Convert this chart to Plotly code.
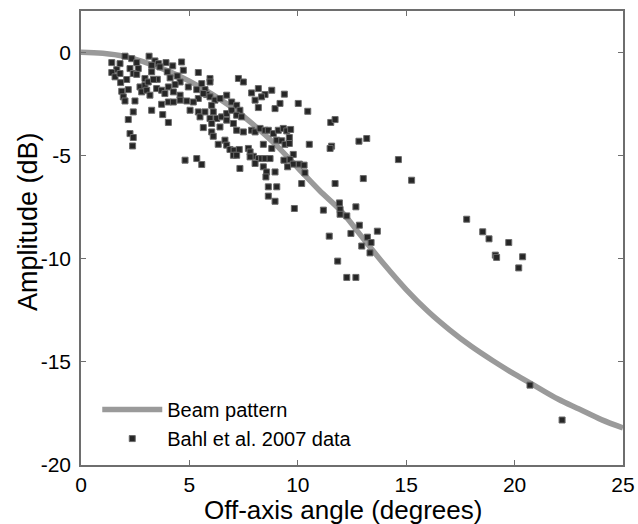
import plotly.graph_objects as go

# Beam pattern curve
beam_angle = [0, 1, 2, 3, 4, 5, 6, 7, 8, 9, 10, 11, 12, 13, 14, 15, 16, 17, 18, 19, 20, 21, 22, 23, 24, 25]
beam_db = [0, -0.05, -0.2, -0.5, -0.9, -1.4, -2.0, -2.7, -3.55, -4.5, -5.6, -6.7, -7.7, -9.0, -10.3,
           -11.5, -12.55, -13.45, -14.25, -14.95, -15.6, -16.2, -16.8, -17.3, -17.8, -18.2]

# Bahl et al. 2007 data
bahl_angle = [
    2.03, 2.34, 3.14, 2.57, 3.41, 3.57, 3.92, 4.64, 4.23, 3.26, 3.64, 3.98, 4.72, 5.41, 1.42, 1.80,
    1.65, 1.42, 1.57, 1.80, 2.26, 2.64, 2.41, 2.11, 2.57, 2.95, 3.26, 3.52, 4.11, 4.44, 4.57, 4.34,
    5.95, 5.95, 7.26, 7.49, 1.83, 2.18, 2.72, 2.95, 3.10, 3.34, 2.80, 3.03, 3.18, 3.49, 3.72, 3.87,
    4.03, 4.26, 4.57, 4.95, 5.34, 5.57, 5.72, 5.80, 5.41, 5.64, 5.95, 6.18, 6.41, 6.72, 6.95, 7.18,
    7.33, 7.87, 8.18, 8.49, 8.80, 8.03, 8.33, 8.18, 8.95, 9.18, 1.88, 1.95, 2.03, 2.49, 2.41, 2.18,
    3.26, 3.72, 4.03, 4.26, 4.57, 4.88, 5.03, 5.18, 5.41, 5.49, 5.72, 6.03, 6.10, 6.26, 6.49, 6.72,
    6.95, 7.18, 7.41, 5.95, 6.03, 6.41, 6.72, 7.03, 7.18, 7.49, 7.87, 8.03, 8.26, 8.49, 8.64, 8.87,
    9.03, 9.10, 2.26, 2.41, 2.38, 5.64, 6.03, 6.10, 6.64, 6.72, 6.87, 7.06, 7.30, 7.72, 7.80, 7.95,
    8.18, 8.33, 8.49, 8.72, 8.41, 8.80, 6.33, 7.03, 7.18, 7.80, 8.03, 8.41, 8.56, 8.53, 8.95, 4.80,
    5.34, 5.57, 7.33, 4.03, 3.77,
    9.38, 10.02, 10.46, 11.52, 11.72, 9.33, 9.49, 9.67, 9.26, 9.61, 9.41, 9.61, 10.53, 11.56, 11.49,
    12.82, 13.18, 9.79, 9.64, 9.36, 9.79, 10.07, 10.29, 9.53, 10.33, 10.18, 11.72, 13.02, 14.64,
    11.92, 12.68, 9.84, 11.18, 8.64, 9.03, 8.64, 8.95,
    11.95, 11.95, 12.26, 12.84, 13.67, 12.45, 11.45, 13.21, 13.38, 12.95, 13.33, 11.84, 12.26, 12.68,
    15.25,
    17.79, 18.53, 18.82, 19.73, 19.11, 19.17, 20.37, 20.19, 20.71, 22.19,
]
bahl_db = [
    -0.19, -0.31, -0.19, -0.50, -0.42, -0.55, -0.50, -0.47, -0.66, -0.63, -0.71, -0.95, -0.87, -0.98, -0.50, -0.55,
    -0.84, -0.98, -1.19, -1.03, -0.79, -0.79, -1.03, -1.32, -1.07, -1.27, -0.95, -1.31, -1.24, -1.15, -1.44, -1.56,
    -1.27, -1.44, -1.27, -1.44, -1.47, -1.81, -1.68, -1.60, -1.44, -1.32, -1.92, -1.84, -2.08, -1.76, -1.84, -2.00,
    -1.68, -1.92, -2.08, -1.68, -1.81, -1.52, -1.81, -2.05, -2.24, -2.00, -2.16, -2.32, -2.24, -2.08, -2.41, -2.57,
    -2.81, -1.97, -1.76, -2.05, -1.84, -2.32, -2.16, -2.68, -2.73, -2.48, -1.89, -2.16, -2.36, -2.36, -2.89, -3.26,
    -2.81, -2.52, -2.41, -2.41, -2.32, -2.36, -2.81, -2.41, -2.89, -3.13, -2.89, -2.57, -2.89, -3.21, -3.13, -2.97,
    -2.81, -3.05, -3.13, -3.21, -3.45, -3.62, -3.29, -3.45, -3.78, -3.86, -3.78, -3.86, -3.69, -3.78, -3.78, -3.94,
    -4.26, -3.78, -3.94, -4.13, -4.54, -3.65, -3.86, -4.07, -4.26, -4.50, -4.71, -4.75, -4.71, -4.66, -4.83, -5.04,
    -5.15, -5.15, -5.15, -5.15, -4.46, -4.66, -4.46, -4.99, -4.99, -5.07, -5.39, -5.55, -5.80, -6.04, -5.80, -5.23,
    -5.15, -5.44, -5.63, -3.40, -3.02,
    -2.03, -2.48, -2.86, -3.40, -3.26, -3.69, -3.81, -3.74, -4.29, -4.13, -4.46, -4.42, -4.46, -4.55, -4.66,
    -4.31, -4.18, -4.95, -5.20, -5.23, -5.42, -5.42, -5.47, -5.55, -5.84, -6.36, -6.36, -6.12, -5.20,
    -7.30, -7.49, -7.57, -7.65, -6.52, -6.52, -6.97, -7.22,
    -7.62, -7.85, -7.93, -8.38, -8.67, -8.78, -8.91, -8.96, -9.22, -9.39, -9.72, -10.12, -10.91, -10.91,
    -6.20,
    -8.09, -8.70, -9.04, -9.22, -9.83, -9.94, -9.91, -10.45, -16.13, -17.82,
]

x_ticks = [0, 5, 10, 15, 20, 25]
y_ticks = [-20, -15, -10, -5, 0]
x_title = "Off-axis angle (degrees)"
y_title = "Amplitude (dB)"

FONT = "Liberation Sans, Arial, sans-serif"
AXC = "#6e6e6e"

fig = go.Figure()
fig.add_trace(go.Scatter(
    x=beam_angle, y=beam_db, mode="lines", name="Beam pattern",
    line=dict(color="#9a9a9a", width=5.5, shape="spline"),
))
fig.add_trace(go.Scatter(
    x=bahl_angle, y=bahl_db, mode="markers", name="Bahl et al. 2007 data",
    marker=dict(symbol="square", size=6, color="#262626", line=dict(color="#6a6a6a", width=1)),
))

fig.update_layout(
    width=638, height=524,
    margin=dict(l=81, r=15, t=11, b=59, autoexpand=False),
    paper_bgcolor="white", plot_bgcolor="white",
    font=dict(family=FONT, color="black", size=21),
    legend=dict(
        x=0.03, y=0.165, xanchor="left", yanchor="top",
        bgcolor="rgba(0,0,0,0)", borderwidth=0,
        font=dict(size=20), itemwidth=60, tracegroupgap=0,
    ),
    showlegend=True,
    annotations=[
        dict(text=x_title, xref="paper", yref="paper", x=0.483, y=-0.1,
             xanchor="center", yanchor="middle", showarrow=False, font=dict(size=26)),
        dict(text=y_title, xref="paper", yref="paper", x=-0.098, y=0.537,
             xanchor="center", yanchor="middle", textangle=-90, showarrow=False, font=dict(size=27)),
    ],
)
fig.update_xaxes(
    range=[0, 25], tickvals=x_ticks, ticktext=[str(v) for v in x_ticks],
    showgrid=False, zeroline=False, automargin=False,
    showline=True, linecolor=AXC, linewidth=1.5, mirror="ticks",
    ticks="inside", ticklen=5, tickcolor=AXC, tickwidth=1,
    tickfont=dict(size=21), ticklabelstandoff=0,
)
fig.update_yaxes(
    range=[-20, 2], tickvals=y_ticks, ticktext=[str(v) for v in y_ticks],
    showgrid=False, zeroline=False, automargin=False,
    showline=True, linecolor=AXC, linewidth=1.5, mirror="ticks",
    ticks="inside", ticklen=5, tickcolor=AXC, tickwidth=1,
    tickfont=dict(size=21), ticklabelstandoff=4,
)

fig.write_html("out.html", config={"displayModeBar": False})
